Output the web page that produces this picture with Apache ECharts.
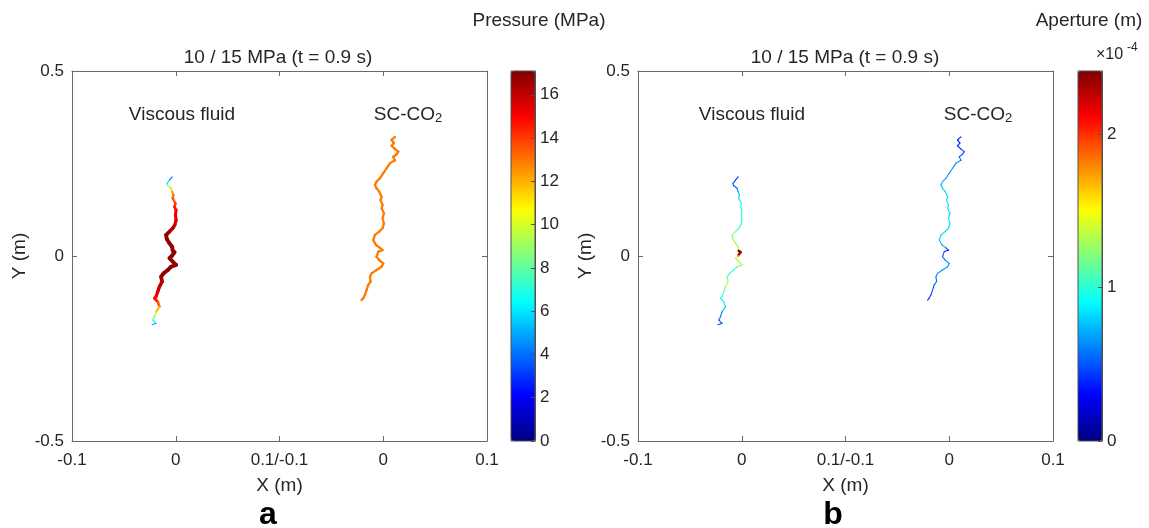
<!DOCTYPE html>
<html><head><meta charset="utf-8">
<script src="https://cdn.jsdelivr.net/npm/echarts@6/dist/echarts.min.js"></script>
<style>html,body{margin:0;padding:0;background:#fff}#c{width:1149px;height:528px}</style>
</head><body><div id="c"></div>
<script>
// ---------- data ----------
const xTickLabels = ['-0.1', '0', '0.1/-0.1', '0', '0.1'];
const domainOffset = { viscous: 0, co2: 0.2 }; // composite x axis: two 0.2 m wide domains side by side
const pressureRange = [0, 17.1];        // MPa
const apertureRange = [0, 2.41];        // ×10^-4 m

// Viscous-fluid fracture trace (local X, Y in m)
const viscousX = [-0.0035,-0.0060,-0.0086,-0.0077,-0.0045,-0.0035,-0.0022,-0.0029,-0.0003,-0.0012,0.0003,-0.0003,0.0003,-0.0009,-0.0029,-0.0060,-0.0093,-0.0086,-0.0060,-0.0035,-0.0029,-0.0012,-0.0035,-0.0060,-0.0029,0.0003,-0.0045,-0.0077,-0.0118,-0.0141,-0.0132,-0.0157,-0.0173,-0.0190,-0.0205,-0.0173,-0.0157,-0.0190,-0.0205,-0.0221,-0.0190,-0.0228];
const viscousY = [0.214,0.205,0.196,0.190,0.183,0.174,0.165,0.156,0.142,0.133,0.124,0.111,0.097,0.084,0.075,0.066,0.057,0.046,0.034,0.025,0.014,0.010,0.001,-0.006,-0.015,-0.024,-0.029,-0.038,-0.047,-0.056,-0.069,-0.083,-0.096,-0.110,-0.114,-0.124,-0.137,-0.151,-0.164,-0.173,-0.182,-0.186];
const viscousPressure = [4,5.5,7.5,9.5,11.2,12.3,13,13.5,14,14.5,15,15.3,15.6,15.9,16.2,16.5,16.8,16.8,16.8,16.8,16.8,16.8,16.8,16.8,16.8,16.8,16.8,16.8,16.8,16.6,16.2,15.8,15.4,15,14.6,13.6,12,10,8,6.5,5,4.5];
const viscousAperture = [0.45,0.45,0.5,0.55,0.6,0.7,0.8,0.9,0.95,0.95,1.0,1.0,1.0,1.05,1.1,1.2,1.25,1.3,1.3,1.35,2.4,2.3,1.45,1.35,1.3,1.25,1.1,1.0,1.0,1.2,1.35,1.2,1.05,0.95,0.9,0.85,0.75,0.6,0.55,0.5,0.45,0.45];

// SC-CO2 fracture trace (local X, Y in m)
const co2X = [0.0113,0.0080,0.0103,0.0080,0.0113,0.0145,0.0128,0.0096,0.0113,0.0065,0.0032,0.0000,-0.0032,-0.0065,-0.0080,-0.0065,-0.0039,-0.0016,-0.0026,-0.0007,-0.0016,0.0007,-0.0007,0.0007,-0.0007,-0.0039,-0.0080,-0.0096,-0.0070,-0.0032,-0.0007,-0.0048,-0.0065,-0.0039,0.0000,-0.0016,-0.0065,-0.0113,-0.0128,-0.0122,-0.0145,-0.0161,-0.0176,-0.0193,-0.0209];
const co2Y = [0.322,0.314,0.305,0.298,0.289,0.282,0.275,0.268,0.259,0.251,0.237,0.224,0.210,0.201,0.192,0.183,0.174,0.160,0.151,0.138,0.129,0.115,0.102,0.088,0.075,0.066,0.057,0.043,0.030,0.022,0.016,0.012,-0.002,-0.011,-0.020,-0.029,-0.038,-0.047,-0.056,-0.069,-0.078,-0.092,-0.105,-0.114,-0.119];
const co2Pressure = [12.9,12.9,12.9,12.9,12.9,12.9,12.9,12.9,12.9,12.9,12.9,12.9,12.9,12.9,12.9,12.9,12.9,12.9,12.9,12.9,12.9,12.9,12.9,12.9,12.9,12.9,12.9,12.9,12.9,12.9,12.9,12.9,12.9,12.9,12.9,12.9,12.9,12.9,12.9,12.9,12.9,12.9,12.9,12.9,12.9];
const co2Aperture = [0.35,0.35,0.4,0.4,0.45,0.45,0.5,0.55,0.6,0.62,0.65,0.68,0.7,0.72,0.75,0.78,0.8,0.82,0.84,0.86,0.86,0.85,0.85,0.84,0.82,0.8,0.78,0.75,0.68,0.45,0.35,0.5,0.58,0.62,0.66,0.68,0.64,0.6,0.55,0.55,0.5,0.5,0.45,0.4,0.4];

// ---------- helpers ----------
function jet(n) {
  const f = v => Math.round(255 * Math.max(0, Math.min(1, v)));
  const out = [];
  for (let i = 0; i < n; i++) {
    const t = i / (n - 1);
    out.push('rgb(' + f(1.5 - Math.abs(4 * t - 3)) + ',' + f(1.5 - Math.abs(4 * t - 2)) + ',' + f(1.5 - Math.abs(4 * t - 1)) + ')');
  }
  return out;
}
function segments(xs, ys, vals, offset) {
  const out = [];
  for (let i = 0; i < xs.length - 1; i++) out.push([xs[i] + offset, ys[i], xs[i + 1] + offset, ys[i + 1], vals[i]]);
  return out;
}
function fracture(name, axisIdx, data, widthFn) {
  return {
    type: 'custom', name, xAxisIndex: axisIdx, yAxisIndex: axisIdx, data,
    encode: { x: [0, 2], y: [1, 3] }, silent: true,
    renderItem: (params, api) => {
      const p1 = api.coord([api.value(0), api.value(1)]);
      const p2 = api.coord([api.value(2), api.value(3)]);
      return { type: 'line', shape: { x1: p1[0], y1: p1[1], x2: p2[0], y2: p2[1] },
        style: { stroke: api.visual('color'), lineWidth: widthFn(api.value(4)), lineCap: 'round', lineJoin: 'round' } };
    }
  };
}
const FONT = "'Liberation Sans', Arial, sans-serif";
const TXT = '#262626';
const AX = '#6a6a6a';
const CB = '#505050';
const pressureWidth = p => 1 + 3 * Math.pow(p / pressureRange[1], 3);
const apertureWidth = a => 1.1 + 1.5 * Math.pow(a / apertureRange[1], 4);

const plots = [{ left: 72, top: 71, width: 415, height: 370 }, { left: 638, top: 71, width: 415, height: 370 }];
const bars = [{ left: 511, top: 71, width: 24, height: 370 }, { left: 1078, top: 71, width: 24, height: 370 }];

const grid = [plots[0], bars[0], plots[1], bars[1]].map((g, i) => Object.assign({}, g,
  (i % 2 === 1) ? { show: true, borderColor: CB, borderWidth: 1, backgroundColor: 'transparent', z: 10 } : {}));

function plotX(gi, pos) {
  return {
    gridIndex: gi, type: 'value', position: pos, min: -0.1, max: 0.3, interval: 0.1,
    axisLine: { show: true, onZero: false, lineStyle: { color: AX, width: 1 } },
    axisTick: { show: true, inside: true, length: 5, lineStyle: { color: AX } },
    splitLine: { show: false },
    axisLabel: pos === 'bottom' ? { show: true, color: TXT, fontSize: 17, fontFamily: FONT, margin: 11,
      formatter: v => xTickLabels[Math.round((v + 0.1) / 0.1)] } : { show: false },
    name: pos === 'bottom' ? 'X (m)' : '', nameLocation: 'middle', nameGap: 35,
    nameTextStyle: { color: TXT, fontSize: 19, fontFamily: FONT }
  };
}
function plotY(gi, pos) {
  return {
    gridIndex: gi, type: 'value', position: pos, min: -0.5, max: 0.5, interval: 0.5,
    axisLine: { show: true, onZero: false, lineStyle: { color: AX, width: 1 } },
    axisTick: { show: true, inside: true, length: 5, lineStyle: { color: AX } },
    splitLine: { show: false },
    axisLabel: pos === 'left' ? { show: true, color: TXT, fontSize: 17, fontFamily: FONT, margin: 8 } : { show: false },
    name: pos === 'left' ? 'Y (m)' : '', nameLocation: 'middle', nameGap: 43, nameRotate: 90,
    nameTextStyle: { color: TXT, fontSize: 19, fontFamily: FONT }
  };
}
function barX(gi) { return { gridIndex: gi, type: 'value', min: 0, max: 1, show: false }; }
function barY(gi, range, interval) {
  return {
    gridIndex: gi, type: 'value', position: 'right', min: range[0], max: range[1], interval, z: 10,
    axisLine: { show: true, onZero: false, lineStyle: { color: CB, width: 1 } }, splitLine: { show: false },
    axisTick: { show: true, inside: true, length: 4, lineStyle: { color: CB, width: 1 } },
    axisLabel: { color: TXT, fontSize: 17, fontFamily: FONT, margin: 5, showMaxLabel: false }
  };
}

const colors = jet(64);
const option = {
  backgroundColor: '#fff',
  animation: false,
  grid,
  xAxis: [plotX(0, 'bottom'), plotX(0, 'top'), barX(1), plotX(2, 'bottom'), plotX(2, 'top'), barX(3)],
  yAxis: [plotY(0, 'left'), plotY(0, 'right'), barY(1, pressureRange, 2), plotY(2, 'left'), plotY(2, 'right'), barY(3, apertureRange, 1)],
  visualMap: [
    { type: 'continuous', min: pressureRange[0], max: pressureRange[1], dimension: 4, seriesIndex: [0, 1],
      left: bars[0].left, top: bars[0].top, itemWidth: bars[0].width, itemHeight: bars[0].height,
      padding: 0, calculable: false, hoverLink: false, text: null, showLabel: false, inRange: { color: colors } },
    { type: 'continuous', min: apertureRange[0], max: apertureRange[1], dimension: 4, seriesIndex: [2, 3],
      left: bars[1].left, top: bars[1].top, itemWidth: bars[1].width, itemHeight: bars[1].height,
      padding: 0, calculable: false, hoverLink: false, text: null, showLabel: false, inRange: { color: colors } }
  ],
  series: [
    fracture('Viscous fluid pressure', 0, segments(viscousX, viscousY, viscousPressure, domainOffset.viscous), pressureWidth),
    fracture('SC-CO2 pressure', 0, segments(co2X, co2Y, co2Pressure, domainOffset.co2), pressureWidth),
    fracture('Viscous fluid aperture', 3, segments(viscousX, viscousY, viscousAperture, domainOffset.viscous), apertureWidth),
    fracture('SC-CO2 aperture', 3, segments(co2X, co2Y, co2Aperture, domainOffset.co2), apertureWidth)
  ],
  graphic: [
    ...[278, 845].map(x => ({ type: 'text', x, y: 58, style: { text: '10 / 15 MPa (t = 0.9 s)', font: '19px ' + FONT, fill: TXT, align: 'center', verticalAlign: 'middle' } })),
    { type: 'text', x: 539, y: 21, style: { text: 'Pressure (MPa)', font: '19px ' + FONT, fill: TXT, align: 'center', verticalAlign: 'middle' } },
    { type: 'text', x: 1089, y: 21, style: { text: 'Aperture (m)', font: '19px ' + FONT, fill: TXT, align: 'center', verticalAlign: 'middle' } },
    ...[182, 752].map(x => ({ type: 'text', x, y: 115, style: { text: 'Viscous fluid', font: '19px ' + FONT, fill: TXT, align: 'center', verticalAlign: 'middle' } })),
    ...[408, 978].map(x => ({ type: 'text', x, y: 115, style: { text: 'SC-CO{sub|2}', font: '19px ' + FONT, fill: TXT, align: 'center', verticalAlign: 'middle',
      rich: { sub: { fontSize: 13, fontFamily: FONT, fill: TXT, verticalAlign: 'bottom', padding: [6, 0, 0, 0] } } } })),
    { type: 'text', x: 1096, y: 55, style: { text: '×10', font: '16px ' + FONT, fill: TXT, align: 'left', verticalAlign: 'middle' } },
    { type: 'text', x: 1127, y: 48, style: { text: '-4', font: '12px ' + FONT, fill: TXT, align: 'left', verticalAlign: 'middle' } },
    { type: 'text', x: 268, y: 515, style: { text: 'a', font: 'bold 32px ' + FONT, fill: '#000', align: 'center', verticalAlign: 'middle' } },
    { type: 'text', x: 833, y: 515, style: { text: 'b', font: 'bold 32px ' + FONT, fill: '#000', align: 'center', verticalAlign: 'middle' } }
  ]
};
const chart = echarts.init(document.getElementById('c'), null, { renderer: 'canvas' });
chart.setOption(option);
</script>
</body></html>
